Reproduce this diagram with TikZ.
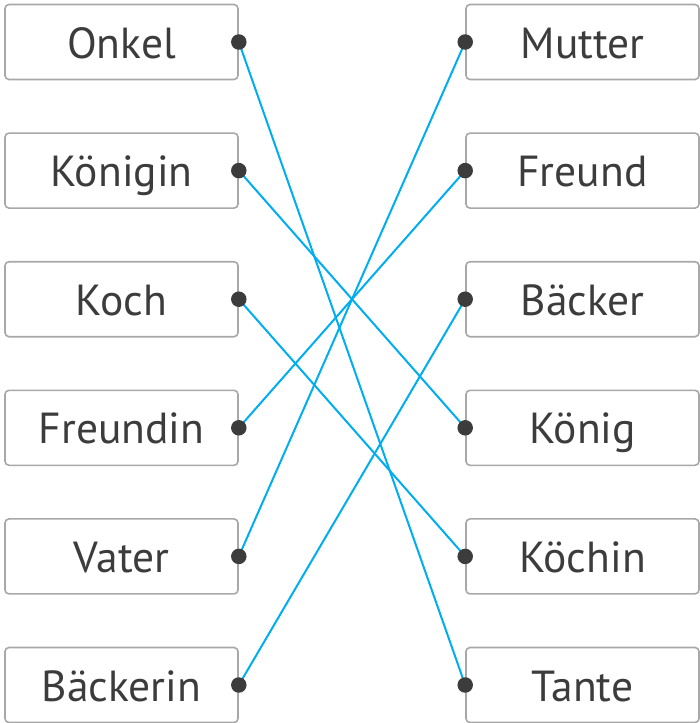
\documentclass[tikz,border=0pt]{standalone}
\usepackage{fontspec}
\setmainfont{PT Sans}
\usepackage{xcolor}
\definecolor{boxgray}{HTML}{A8A8A8}
\definecolor{textgray}{HTML}{3C3C3C}
\definecolor{linkblue}{HTML}{00AEEF}

\begin{document}
\begin{tikzpicture}[x=1pt, y=-1pt,
	textbox/.style={draw=boxgray, line width=1.6pt, rounded corners=4pt, minimum width=233pt, minimum height=75pt, inner sep=0, text height=40pt, text depth=8pt, text=textgray, font=\fontsize{43.5}{43.5}\selectfont},
	circ/.style={circle, fill=textgray, minimum size=15.5pt, inner sep=0},
	link/.style={linkblue, line width=2pt}
]
\useasboundingbox (0,0) rectangle (699,723);

\node[textbox] (onkel)    at (121.5, 42.0) {Onkel};
\node[textbox] (koenigin) at (121.5,170.6) {Königin};
\node[textbox] (koch)     at (121.5,299.2) {Koch};
\node[textbox] (freundin) at (121.5,427.8) {Freundin};
\node[textbox] (vater)    at (121.5,556.4) {Vater};
\node[textbox] (baeckerin) at (121.5,685.0) {Bäckerin};

\node[textbox] (mutter)  at (582.5, 42.0) {Mutter};
\node[textbox] (freund)  at (582.5,170.6) {Freund};
\node[textbox] (baecker) at (582.5,299.2) {Bäcker};
\node[textbox] (koenig)  at (582.5,427.8) {König};
\node[textbox] (koechin) at (582.5,556.4) {Köchin};
\node[textbox] (tante)   at (582.5,685.0) {Tante};

\coordinate (onkel-d)     at (onkel.east);
\coordinate (koenigin-d)  at (koenigin.east);
\coordinate (koch-d)      at (koch.east);
\coordinate (freundin-d)  at (freundin.east);
\coordinate (vater-d)     at (vater.east);
\coordinate (baeckerin-d) at (baeckerin.east);
\coordinate (mutter-d)    at (mutter.west);
\coordinate (freund-d)    at (freund.west);
\coordinate (baecker-d)   at (baecker.west);
\coordinate (koenig-d)    at (koenig.west);
\coordinate (koechin-d)   at (koechin.west);
\coordinate (tante-d)     at (tante.west);

\draw[link] (onkel-d) -- (tante-d);
\draw[link] (koenigin-d) -- (koenig-d);
\draw[link] (koch-d) -- (koechin-d);
\draw[link] (freundin-d) -- (freund-d);
\draw[link] (vater-d) -- (mutter-d);
\draw[link] (baeckerin-d) -- (baecker-d);

\foreach \n in {onkel,koenigin,koch,freundin,vater,baeckerin,mutter,freund,baecker,koenig,koechin,tante}
	\node[circ] (\n-c) at (\n-d) {};
\end{tikzpicture}
\end{document}
